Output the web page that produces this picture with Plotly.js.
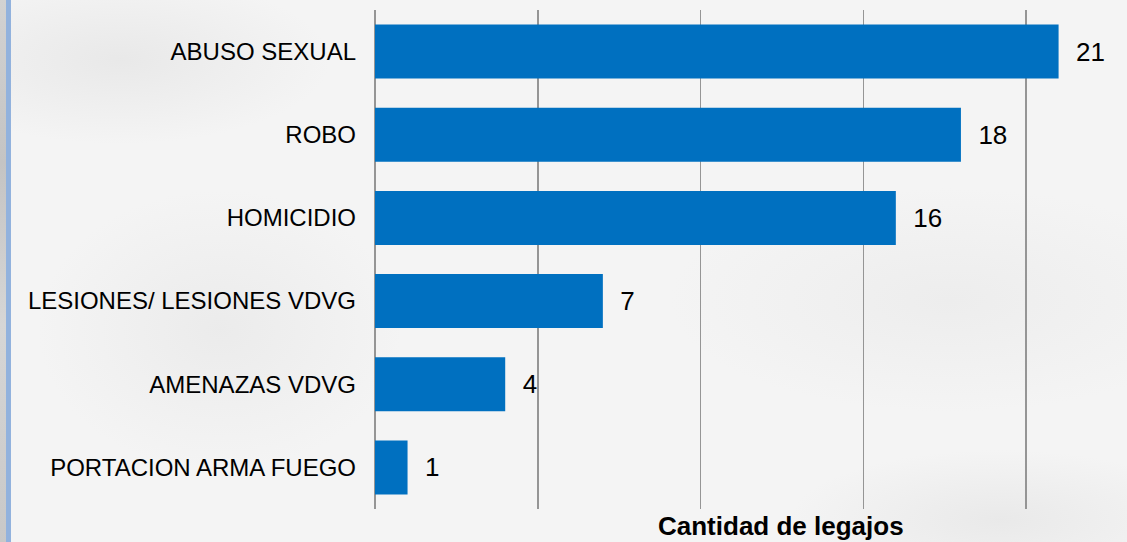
<!DOCTYPE html>
<html>
<head>
<meta charset="utf-8">
<script src="https://cdn.plot.ly/plotly-3.0.1.min.js"></script>
<style>
  html, body { margin: 0; padding: 0; }
  body { width: 1127px; height: 542px; overflow: hidden; }
  #wrap {
    position: relative; width: 1127px; height: 542px;
    background:
      radial-gradient(ellipse 300px 120px at 120px 60px, rgba(225,225,225,0.6), rgba(225,225,225,0) 70%),
      radial-gradient(ellipse 260px 200px at 220px 330px, rgba(228,228,228,0.55), rgba(228,228,228,0) 70%),
      radial-gradient(ellipse 400px 160px at 950px 300px, rgba(230,230,230,0.5), rgba(230,230,230,0) 70%),
      radial-gradient(ellipse 300px 100px at 1000px 520px, rgba(226,226,226,0.6), rgba(226,226,226,0) 70%),
      #f4f4f4;
  }
  #strip { position: absolute; left: 0; top: 0; width: 6px; height: 542px;
    background: linear-gradient(180deg, #d2d2d2, #c4c4c4 30%, #d6d6d6 60%, #c8c8c8); }
  #bline { position: absolute; left: 6px; top: 0; width: 5px; height: 542px; background: #92b2dd; }
  #chart { position: absolute; left: 0; top: 0; width: 1127px; height: 542px; }
</style>
</head>
<body>
<div id="wrap">
  <div id="strip"></div>
  <div id="bline"></div>
  <div id="chart"></div>
</div>
<script>
const categories = ["ABUSO SEXUAL", "ROBO", "HOMICIDIO", "LESIONES/ LESIONES VDVG", "AMENAZAS VDVG", "PORTACION ARMA FUEGO"];
const values = [21, 18, 16, 7, 4, 1];
const axisTitle = "Cantidad de legajos";

const trace = {
  type: "bar",
  orientation: "h",
  y: categories,
  x: values,
  marker: { color: "#0070C0" },
  text: values.map(v => "\u00a0\u00a0" + v),
  textposition: "outside",
  textfont: { family: "Liberation Sans, Arial, sans-serif", size: 26, color: "#000000" },
  cliponaxis: false,
  hoverinfo: "none"
};

const layout = {
  width: 1127, height: 542,
  margin: { l: 375, r: 2, t: 10, b: 33 },
  paper_bgcolor: "rgba(0,0,0,0)",
  plot_bgcolor: "rgba(0,0,0,0)",
  bargap: 0.35,
  showlegend: false,
  font: { family: "Liberation Sans, Arial, sans-serif", color: "#000000" },
  xaxis: {
    range: [0, 23.04],
    dtick: 5, tick0: 0,
    showticklabels: false,
    showgrid: true, gridcolor: "#959595", gridwidth: 1.5,
    zeroline: true, zerolinecolor: "#959595", zerolinewidth: 1.5,
    showline: false, ticks: "",
    fixedrange: true
  },
  yaxis: {
    autorange: "reversed",
    showgrid: false, zeroline: false, showline: false,
    ticks: "",
    ticklabelstandoff: 18,
    tickfont: { family: "Liberation Sans, Arial, sans-serif", size: 24, color: "#000000" },
    fixedrange: true
  },
  annotations: [{
    text: "<b>" + axisTitle + "</b>",
    xref: "paper", yref: "paper",
    x: 0.541, y: -0.035,
    xanchor: "center", yanchor: "middle",
    showarrow: false,
    font: { family: "Liberation Sans, Arial, sans-serif", size: 26, color: "#000000" }
  }]
};

Plotly.newPlot("chart", [trace], layout, { staticPlot: true, displayModeBar: false });
</script>
</body>
</html>
